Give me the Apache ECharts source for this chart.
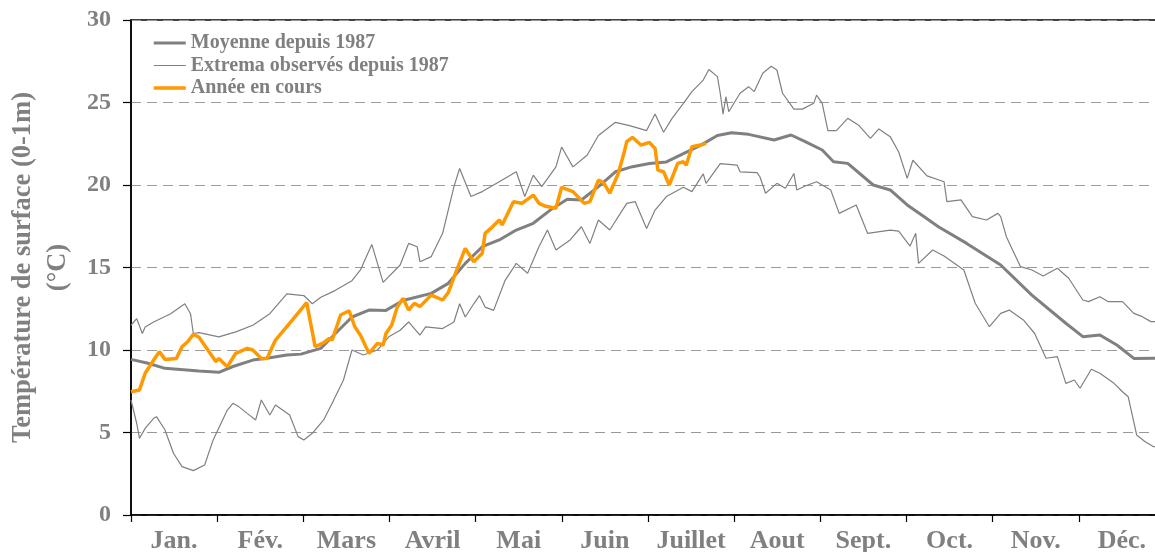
<!DOCTYPE html>
<html>
<head>
<meta charset="utf-8">
<title>Température de surface</title>
<script src="https://cdn.jsdelivr.net/npm/echarts@6/dist/echarts.min.js"></script>
<style>
  html, body { margin: 0; padding: 0; background: #fff; }
  #chart { width: 1155px; height: 552px; }
</style>
</head>
<body>
<div id="chart"></div>
<script>
// month labels, shown between the monthly ticks
const months = ['Jan.', 'Fév.', 'Mars', 'Avril', 'Mai', 'Juin', 'Juillet', 'Aout', 'Sept.', 'Oct.', 'Nov.', 'Déc.']
const yTicks = [0, 5, 10, 15, 20, 25, 30]

// [day of year, °C]
const meanData = [
  [0, 9.43], [6, 9.2], [12, 8.89], [24, 8.73], [31, 8.65], [36, 9.0], [43, 9.39], [48, 9.5],
  [55, 9.7], [60, 9.75], [67, 10.1], [71, 10.8], [78, 12.0], [84, 12.42], [90, 12.4], [96, 13.0],
  [106, 13.43], [112, 14.04], [118, 15.25], [124, 16.26], [130, 16.67], [136, 17.27], [142, 17.68],
  [148, 18.48], [154, 19.13], [159, 19.09], [165, 19.9], [171, 20.8], [177, 21.11], [183, 21.3],
  [189, 21.4], [195, 21.9], [201, 22.4], [207, 23.0], [212, 23.17], [218, 23.07], [227, 22.73],
  [233, 23.03], [238, 22.63], [244, 22.12], [248, 21.41], [253, 21.31], [262, 20.0], [268, 19.7],
  [274, 18.79], [280, 18.08], [285, 17.47], [295, 16.46], [307, 15.15], [318, 13.33], [330, 11.62],
  [336, 10.81], [342, 10.91], [348, 10.3], [354, 9.49], [365, 9.5]
]

const maxData = [
  [0, 11.5], [2, 11.9], [4, 11.0], [5, 11.4], [8, 11.7], [14, 12.2], [19, 12.8], [21, 12.2],
  [22, 11.0], [24, 11.05], [31, 10.8], [37, 11.1], [43, 11.5], [49, 12.2], [55, 13.4], [61, 13.3],
  [64, 12.8], [67, 13.2], [72, 13.6], [78, 14.2], [81, 14.85], [85, 16.4], [89, 14.1], [95, 15.15],
  [98, 16.46], [101, 16.26], [102, 15.35], [106, 15.66], [110, 17.07], [114, 19.9], [116, 21.0],
  [120, 19.3], [124, 19.6], [130, 20.2], [136, 20.8], [139, 19.3], [142, 20.6], [145, 19.9],
  [150, 21.1], [152, 22.3], [156, 21.1], [161, 21.8], [165, 23.0], [171, 23.8], [176, 23.6],
  [182, 23.3], [185, 24.3], [188, 23.2], [191, 24.04], [195, 24.95], [198, 25.66], [202, 26.36],
  [204, 27.0], [207, 26.57], [208, 25.56], [209, 24.3], [210, 25.35], [211, 24.44], [215, 25.56],
  [218, 25.96], [220, 25.66], [223, 26.77], [226, 27.2], [228, 26.97], [230, 25.56], [234, 24.6],
  [237, 24.6], [241, 24.95], [242, 25.45], [244, 24.95], [246, 23.3], [249, 23.3], [253, 24.04],
  [257, 23.6], [261, 22.83], [264, 23.4], [268, 22.93], [271, 22.0], [274, 20.4], [276, 21.5],
  [281, 20.55], [287, 20.2], [288, 18.99], [293, 19.1], [297, 18.08], [302, 17.88], [306, 18.28],
  [307, 18.08], [309, 16.87], [314, 15.05], [318, 14.85], [322, 14.48], [327, 14.95], [331, 14.35],
  [336, 13.03], [338, 12.93], [342, 13.23], [345, 12.93], [350, 12.93], [354, 12.22], [357, 12.02],
  [360, 11.72], [365, 11.7]
]

const minData = [
  [0, 6.97], [2, 5.56], [3, 4.65], [5, 5.25], [8, 5.86], [9, 5.96], [12, 5.15], [15, 3.74],
  [18, 2.93], [22, 2.69], [26, 3.03], [29, 4.55], [34, 6.36], [36, 6.77], [38, 6.57], [41, 6.16],
  [44, 5.76], [46, 6.97], [49, 6.06], [51, 6.67], [56, 6.06], [59, 4.75], [61, 4.55], [64, 4.95],
  [68, 5.76], [71, 6.77], [75, 8.18], [78, 10.0], [82, 9.7], [87, 10.0], [91, 10.8], [95, 11.2],
  [98, 11.7], [102, 10.9], [104, 11.4], [110, 11.3], [114, 11.7], [116, 12.8], [118, 12.0],
  [121, 12.8], [123, 13.3], [125, 12.6], [128, 12.4], [132, 14.2], [136, 15.25], [140, 14.65],
  [144, 16.26], [147, 17.27], [150, 16.06], [155, 16.67], [159, 17.47], [162, 16.46], [165, 17.88],
  [169, 17.27], [175, 18.89], [178, 18.99], [182, 17.37], [185, 18.48], [189, 19.3], [195, 19.86],
  [198, 19.6], [202, 20.67], [203, 20.1], [208, 21.3], [214, 21.2], [215, 20.8], [221, 20.75],
  [222, 20.5], [224, 19.5], [228, 20.1], [231, 19.8], [234, 20.7], [235, 19.7], [238, 19.94],
  [242, 20.2], [247, 19.7], [250, 18.28], [256, 18.79], [260, 17.07], [268, 17.27], [271, 17.2],
  [275, 16.3], [277, 17.07], [278, 15.25], [283, 16.06], [287, 15.7], [294, 14.85], [298, 12.83],
  [303, 11.41], [307, 12.22], [310, 12.42], [315, 11.82], [319, 11.0], [323, 9.5], [327, 9.6],
  [330, 7.98], [333, 8.18], [335, 7.68], [339, 8.83], [342, 8.59], [347, 7.98], [350, 7.47],
  [352, 7.17], [355, 4.85], [358, 4.44], [361, 4.14], [365, 4.1]
]

const currentYear = [
  [0, 7.47], [3, 7.58], [5, 8.59], [8, 9.39], [10, 9.9], [12, 9.43], [16, 9.49], [18, 10.2],
  [20, 10.5], [22, 10.95], [24, 10.77], [30, 9.29], [31, 9.49], [34, 8.99], [37, 9.8], [41, 10.1],
  [43, 10.0], [46, 9.49], [48, 9.49], [51, 10.6], [55, 11.41], [57, 11.82], [62, 12.87], [65, 10.2],
  [68, 10.44], [70, 10.7], [71, 10.6], [74, 12.12], [77, 12.38], [79, 11.41], [81, 10.9], [84, 9.8],
  [87, 10.4], [89, 10.3], [90, 11.0], [92, 11.5], [94, 12.6], [96, 13.13], [98, 12.42], [100, 12.83],
  [102, 12.63], [106, 13.33], [110, 13.03], [112, 13.48], [115, 14.85], [118, 16.16], [121, 15.35],
  [124, 15.86], [125, 17.07], [127, 17.37], [130, 17.88], [131, 17.58], [135, 18.99], [138, 18.89],
  [142, 19.39], [144, 18.89], [146, 18.73], [150, 18.59], [152, 19.86], [156, 19.6], [160, 18.89],
  [162, 18.99], [165, 20.3], [167, 20.1], [169, 19.5], [172, 20.7], [174, 21.92], [175, 22.63],
  [177, 22.89], [180, 22.42], [183, 22.58], [185, 22.22], [186, 20.9], [188, 20.8], [190, 20.0],
  [193, 21.31], [195, 21.41], [196, 21.2], [198, 22.32], [201, 22.42], [203, 22.52]
]

const gray = '#808080'
const orange = '#ff9900'
const font = 'Liberation Serif, Times New Roman, serif'

const chart = echarts.init(document.getElementById('chart'))

chart.setOption({
  animation: false,
  backgroundColor: '#fff',
  grid: {
    show: true,
    left: 131,
    right: -10,
    top: 20,
    bottom: 37,
    borderColor: '#000',
    borderWidth: 1.5,
    backgroundColor: 'transparent',
    outerBoundsMode: 'none'
  },
  legend: {
    orient: 'vertical',
    left: 147,
    top: 28,
    itemWidth: 32,
    itemHeight: 14,
    itemGap: 2.5,
    itemStyle: { opacity: 0 },
    lineStyle: { width: 'inherit' },
    textStyle: { color: gray, fontFamily: font, fontWeight: 'bold', fontSize: 20, lineHeight: 20 },
    data: ['Moyenne depuis 1987', 'Extrema observés depuis 1987', 'Année en cours']
  },
  xAxis: [{
    type: 'value',
    min: 0,
    max: 365,
    interval: 365 / 12,
    axisLine: { lineStyle: { color: '#000', width: 1.5 } },
    axisTick: { show: true, length: 7, lineStyle: { color: '#000', width: 1.2 } },
    axisLabel: { show: false },
    splitLine: { show: false }
  }, {
    type: 'category',
    data: months,
    position: 'bottom',
    boundaryGap: true,
    axisLine: { show: false },
    axisTick: { show: false },
    axisLabel: { interval: 0, color: gray, fontFamily: font, fontWeight: 'bold', fontSize: 26, margin: 13 }
  }],
  yAxis: {
    type: 'value',
    min: yTicks[0],
    max: yTicks[yTicks.length - 1],
    interval: 5,
    name: 'Température de surface (0-1m)\n(°C)',
    nameLocation: 'middle',
    nameGap: 47,
    nameTextStyle: { color: gray, fontFamily: font, fontWeight: 'bold', fontSize: 26.5, lineHeight: 35 },
    axisLine: { show: true, lineStyle: { color: '#000', width: 1.5 } },
    axisTick: { show: true, length: 8, lineStyle: { color: '#000', width: 1.2 } },
    axisLabel: { color: gray, fontFamily: font, fontWeight: 'bold', fontSize: 24, margin: 20 },
    splitLine: { lineStyle: { color: '#9a9a9a', type: [10, 6], width: 1 } }
  },
  series: [{
    name: 'Extrema observés depuis 1987',
    type: 'line',
    data: maxData,
    symbol: 'none',
    lineStyle: { color: gray, width: 1.2 },
    itemStyle: { color: gray }
  }, {
    name: 'Extrema observés depuis 1987',
    type: 'line',
    data: minData,
    symbol: 'none',
    lineStyle: { color: gray, width: 1.2 },
    itemStyle: { color: gray }
  }, {
    name: 'Moyenne depuis 1987',
    type: 'line',
    data: meanData,
    symbol: 'none',
    lineStyle: { color: gray, width: 3 },
    itemStyle: { color: gray }
  }, {
    name: 'Année en cours',
    type: 'line',
    data: currentYear,
    symbol: 'none',
    lineStyle: { color: orange, width: 3.5 },
    itemStyle: { color: orange }
  }]
})
</script>
</body>
</html>
